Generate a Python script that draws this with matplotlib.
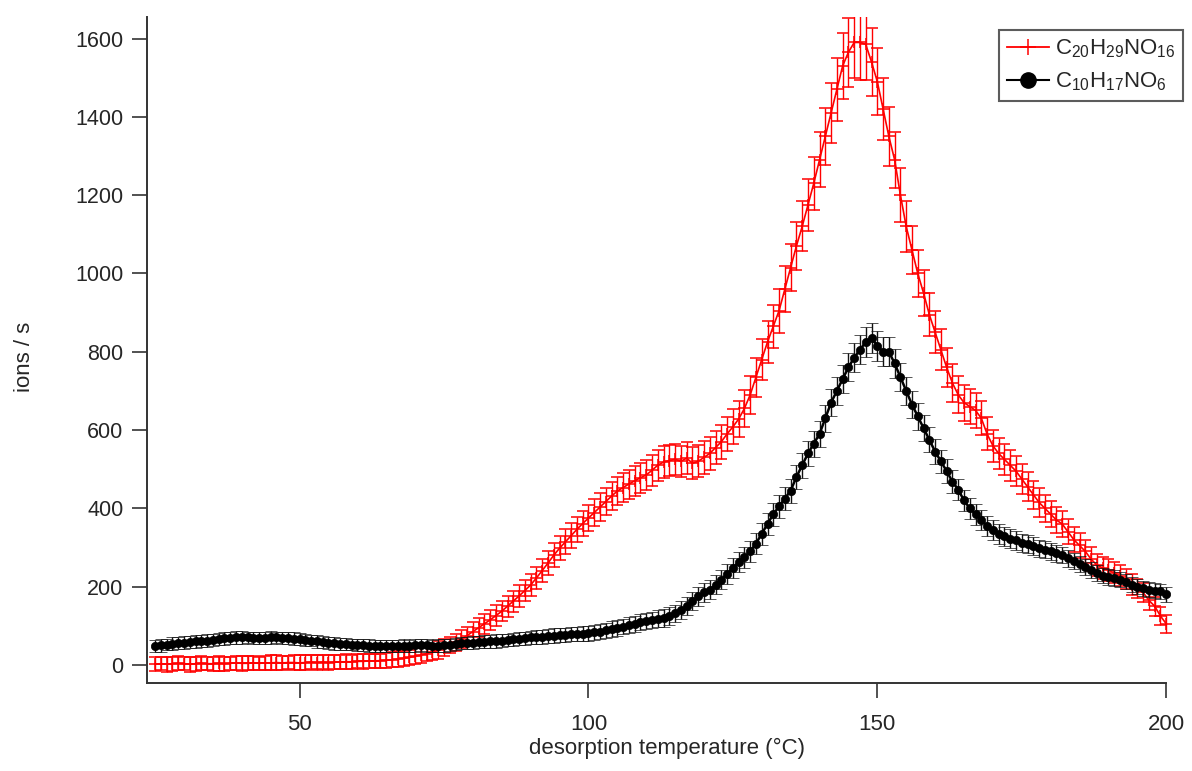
import numpy as np
import matplotlib
matplotlib.use("Agg")
import matplotlib.pyplot as plt
from matplotlib.lines import Line2D

# ---- data (desorption temperature in degC, 1 degC steps) ----
temperature = list(range(25, 201))

c20_signal = [
    2, 3, 2, 3, 4, 3, 2, 3, 4, 3,
    3, 4, 3, 4, 5, 4, 4, 5, 4, 5,
    5, 6, 5, 6, 6, 5, 6, 7, 6, 7,
    6, 7, 7, 8, 8, 9, 9, 10, 10, 11,
    12, 13, 15, 17, 19, 22, 25, 29, 33, 38,
    44, 51, 58, 66, 75, 85, 95, 105, 115, 126,
    137, 150, 163, 176, 190, 204, 222, 241, 260, 280,
    298, 314, 330, 346, 361, 375, 389, 403, 417, 431,
    444, 453, 462, 470, 478, 485, 497, 510, 518, 522,
    525, 520, 528, 515, 520, 530, 540, 555, 570, 590,
    608, 628, 655, 690, 735, 780, 825, 865, 905, 960,
    1015, 1070, 1120, 1175, 1230, 1290, 1350, 1410, 1470, 1530,
    1565, 1590, 1590, 1585, 1540, 1490, 1420, 1350, 1290, 1200,
    1120, 1060, 1000, 950, 895, 850, 805, 760, 720, 690,
    670, 660, 650, 630, 590, 560, 540, 525, 510, 495,
    475, 455, 435, 415, 400, 385, 370, 360, 340, 320,
    305, 290, 270, 255, 248, 242, 235, 228, 220, 205,
    195, 185, 165, 150, 125, 105,
]

c20_error = [
    18, 17, 19, 18, 18, 17, 19, 18, 18, 17,
    18, 19, 18, 17, 18, 19, 18, 18, 17, 18,
    19, 18, 18, 17, 18, 19, 18, 18, 19, 18,
    18, 17, 18, 19, 18, 18, 19, 18, 19, 18,
    19, 19, 20, 19, 20, 20, 21, 20, 21, 22,
    22, 21, 22, 23, 23, 24, 24, 25, 25, 26,
    26, 27, 27, 28, 28, 29, 29, 30, 30, 31,
    31, 32, 32, 33, 33, 34, 34, 35, 35, 36,
    36, 37, 37, 38, 38, 38, 39, 39, 40, 40,
    40, 40, 41, 41, 41, 42, 42, 43, 43, 44,
    45, 46, 47, 48, 50, 52, 53, 55, 56, 58,
    60, 62, 64, 66, 68, 70, 73, 76, 80, 84,
    88, 92, 95, 92, 88, 85, 80, 75, 72, 68,
    65, 62, 60, 58, 56, 54, 52, 50, 48, 47,
    46, 45, 44, 43, 42, 41, 40, 40, 39, 38,
    38, 37, 36, 36, 35, 34, 34, 33, 32, 32,
    31, 30, 30, 29, 28, 28, 27, 27, 26, 26,
    25, 25, 24, 24, 23, 23,
]

c10_signal = [
    48, 50, 52, 54, 56, 57, 58, 60, 61, 62,
    64, 66, 68, 69, 70, 70, 70, 69, 68, 69,
    70, 70, 69, 68, 67, 66, 64, 62, 60, 58,
    56, 55, 54, 53, 52, 51, 50, 49, 49, 48,
    48, 48, 48, 49, 49, 50, 50, 50, 49, 49,
    50, 51, 53, 55, 56, 57, 58, 59, 60, 61,
    62, 64, 65, 67, 68, 70, 71, 72, 74, 75,
    76, 77, 78, 79, 80, 81, 83, 85, 88, 92,
    95, 98, 102, 105, 109, 112, 115, 118, 120, 125,
    132, 140, 150, 162, 175, 185, 192, 205, 218, 232,
    248, 262, 275, 290, 310, 335, 360, 385, 405, 425,
    445, 480, 510, 540, 565, 590, 630, 670, 700, 730,
    760, 785, 805, 825, 835, 815, 800, 800, 770, 735,
    700, 665, 635, 605, 575, 545, 520, 495, 468, 448,
    420, 400, 385, 370, 355, 345, 335, 328, 322, 318,
    312, 308, 303, 298, 294, 290, 285, 280, 272, 265,
    258, 250, 243, 235, 228, 225, 222, 218, 212, 205,
    200, 196, 192, 190, 188, 180,
]

c10_error = [
    15, 16, 15, 16, 15, 16, 15, 16, 15, 16,
    16, 15, 16, 15, 16, 16, 15, 16, 15, 16,
    16, 15, 16, 15, 16, 15, 16, 15, 16, 15,
    15, 16, 15, 16, 15, 16, 15, 16, 15, 16,
    15, 16, 15, 16, 15, 16, 15, 16, 15, 16,
    16, 15, 16, 15, 16, 16, 16, 17, 16, 17,
    17, 16, 17, 17, 17, 17, 17, 18, 17, 18,
    18, 18, 18, 18, 19, 19, 19, 19, 20, 20,
    20, 20, 20, 21, 21, 21, 21, 22, 22, 22,
    22, 23, 23, 23, 24, 24, 24, 25, 25, 25,
    26, 26, 27, 27, 28, 28, 29, 29, 30, 30,
    31, 31, 32, 32, 33, 34, 34, 35, 35, 36,
    36, 37, 37, 38, 38, 38, 37, 37, 36, 36,
    35, 34, 34, 33, 32, 31, 30, 30, 29, 28,
    28, 27, 27, 26, 26, 25, 25, 24, 24, 24,
    23, 23, 23, 22, 22, 22, 22, 21, 21, 21,
    21, 21, 20, 20, 20, 20, 20, 20, 19, 19,
    19, 19, 19, 19, 19, 19,
]

x_ticks = [50, 100, 150, 200]
y_ticks = [0, 200, 400, 600, 800, 1000, 1200, 1400, 1600]
label_c20 = r"$\mathregular{C_{20}H_{29}NO_{16}}$"
label_c10 = r"$\mathregular{C_{10}H_{17}NO_{6}}$"

# ---- styling ----
plt.rcParams['font.family'] = ['Liberation Sans', 'DejaVu Sans']
plt.rcParams['mathtext.fontset'] = 'custom'
plt.rcParams['mathtext.rm'] = 'Liberation Sans'
text_col = '#262626'

W, H = 1192, 771
fig = plt.figure(figsize=(W / 100, H / 100), dpi=100)
left, right, top, bottom = 147, 1187, 17, 682.5
ax = fig.add_axes([left / W, 1 - bottom / H, (right - left) / W, (bottom - top) / H])

ax.errorbar(temperature, c20_signal, yerr=c20_error, color='#ff0000',
            marker='+', ms=9, mew=1.1, lw=1.2, elinewidth=1.0,
            capsize=4.5, capthick=1.0, zorder=2)
ax.errorbar(temperature, c10_signal, yerr=c10_error, color='black',
            marker='o', ms=6, mew=0.5, lw=1.8, elinewidth=1.0,
            capsize=4.5, capthick=1.1, ecolor='#111111', zorder=3)

ax.set_xlim(23.6, 203.6)
ax.set_ylim(-45, 1655)
ax.spines['top'].set_visible(False)
ax.spines['right'].set_visible(False)
for s in ('left', 'bottom'):
    ax.spines[s].set_linewidth(1.4)
    ax.spines[s].set_color('#333333')
ax.spines['bottom'].set_bounds(23.6, 200)

ax.set_xticks(x_ticks)
ax.set_yticks(y_ticks)
ax.tick_params(axis='both', direction='out', length=11, width=1.2,
               color='#333333', labelcolor=text_col)
ax.tick_params(axis='y', labelsize=15.5, pad=6)
ax.tick_params(axis='x', labelsize=16, pad=12)

ax.set_xlabel('desorption temperature (°C)', fontsize=16, color=text_col,
              labelpad=2)
ax.set_ylabel('ions / s', fontsize=16, color=text_col)
ax.yaxis.set_label_coords(-0.108, 0.49)

handles = [
    Line2D([], [], color='#ff0000', marker='+', ms=11, mew=1.1, lw=1.3),
    Line2D([], [], color='black', marker='o', ms=11, lw=1.5),
]
leg = fig.legend(handles, [label_c20, label_c10], loc='upper right',
                 bbox_to_anchor=(1183 / W, 1 - 30 / H), fontsize=16,
                 frameon=True, fancybox=False, edgecolor='#333333',
                 handlelength=1.9, handletextpad=0.25, borderpad=0.35,
                 labelspacing=0.45, borderaxespad=0)
leg.get_frame().set_linewidth(1.5)
for t in leg.get_texts():
    t.set_color(text_col)

fig.savefig('out.png', dpi=100)
